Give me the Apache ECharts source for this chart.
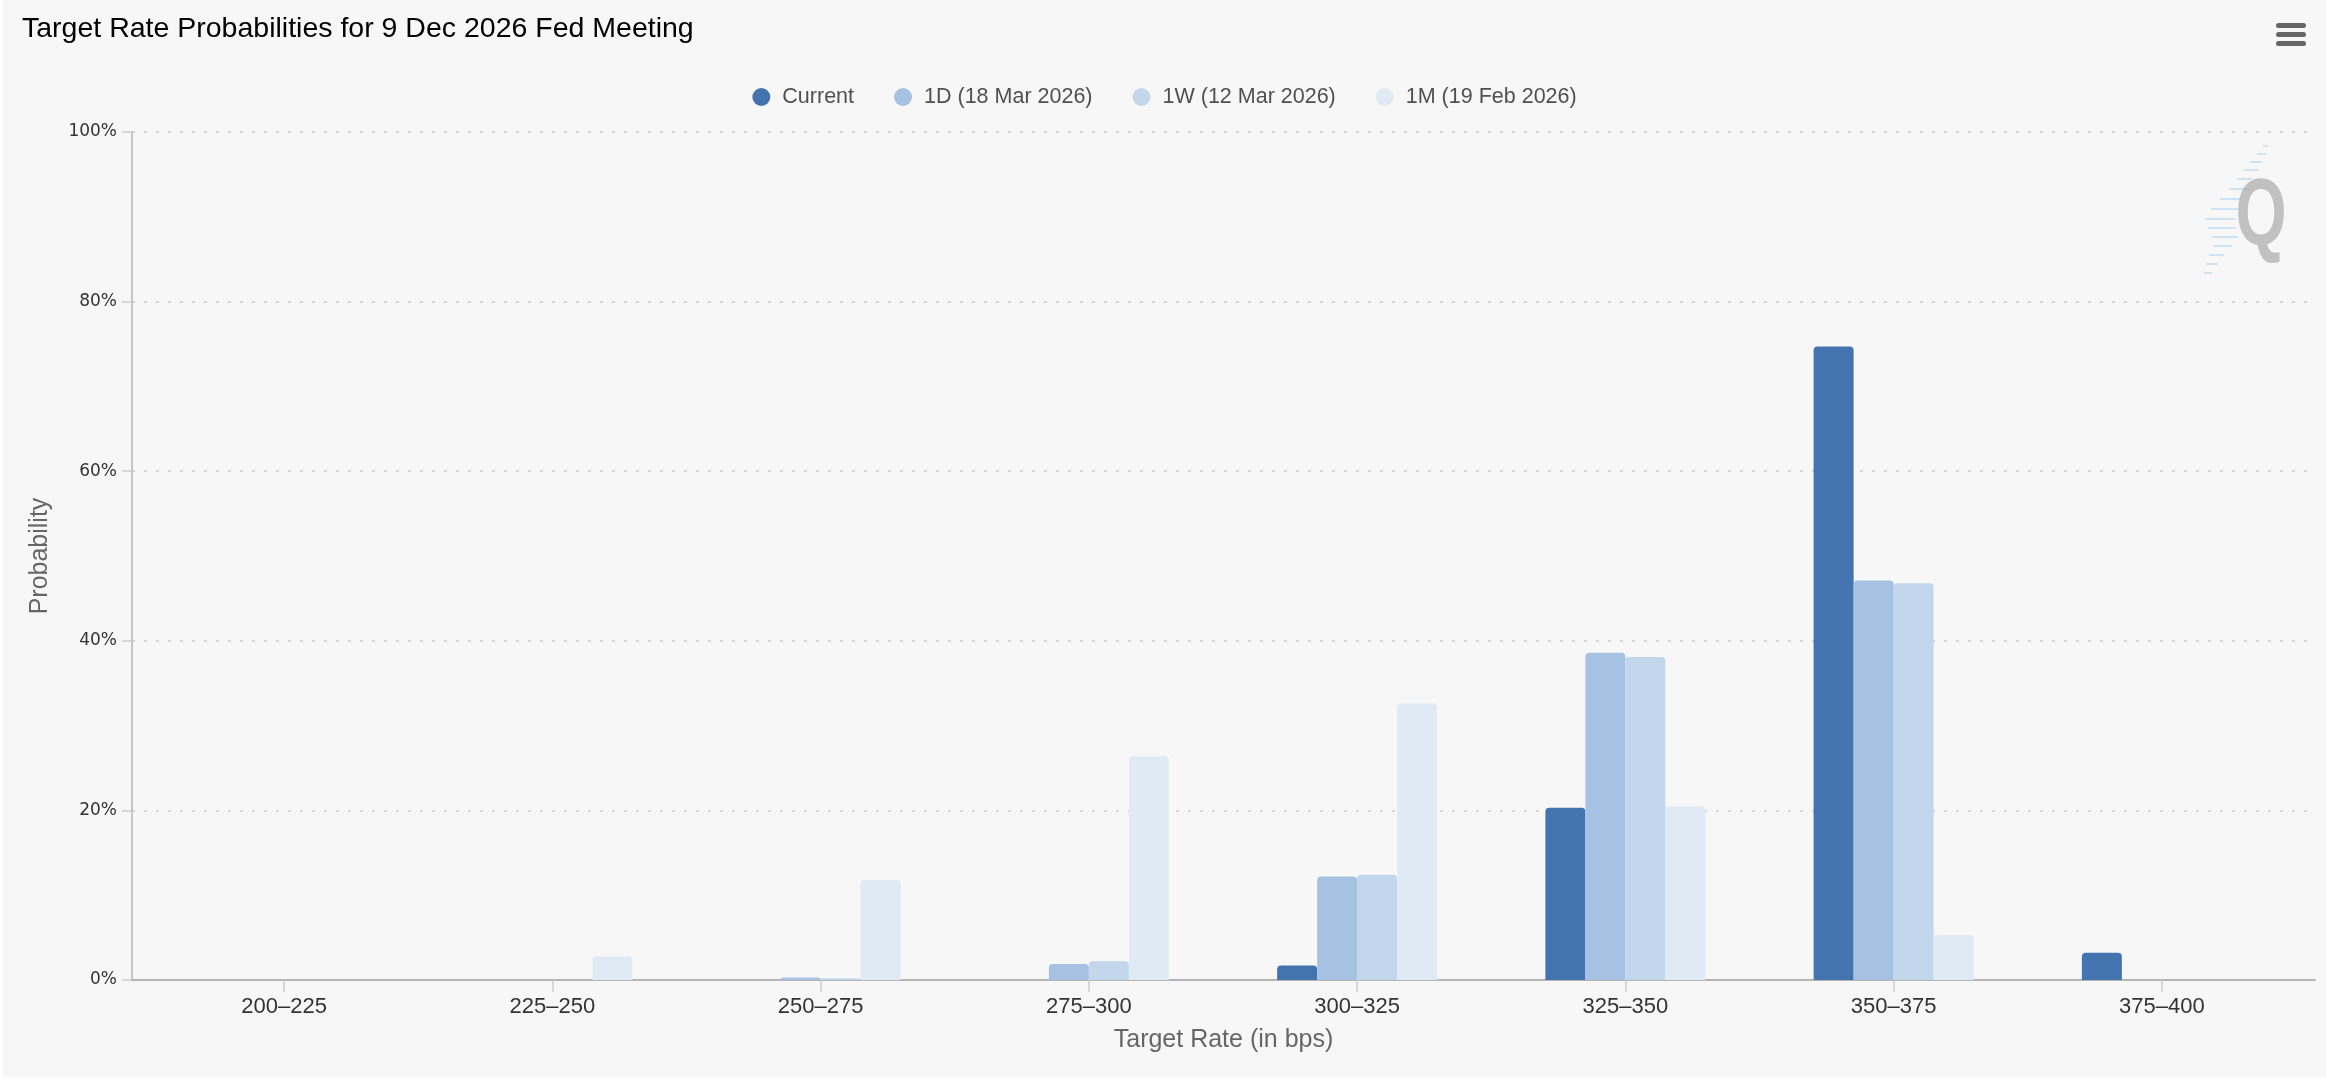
<!DOCTYPE html>
<html>
<head>
<meta charset="utf-8">
<script src="https://cdn.jsdelivr.net/npm/echarts@6/dist/echarts.min.js"></script>
<style>
  html, body { margin: 0; padding: 0; background: #ffffff; }
  #chart { position: absolute; left: 3px; top: 0; width: 2323px; height: 1077px; background: #f7f7f7; }
</style>
</head>
<body>
<div id="chart"></div>
<script>
const categories = ['200–225', '225–250', '250–275', '275–300', '300–325', '325–350', '350–375', '375–400'];
const seriesNames = ['Current', '1D (18 Mar 2026)', '1W (12 Mar 2026)', '1M (19 Feb 2026)'];
const currentValues = [0, 0, 0, 0, 1.7, 20.3, 74.7, 3.2];
const oneDayValues = [0, 0, 0.3, 1.9, 12.2, 38.6, 47.1, 0];
const oneWeekValues = [0, 0, 0.2, 2.2, 12.4, 38.1, 46.8, 0];
const oneMonthValues = [0, 2.8, 11.8, 26.4, 32.6, 20.5, 5.3, 0];
const yTicks = [0, 20, 40, 60, 80, 100];

const colors = ['#4374b0', '#a5c2e2', '#c3d7ec', '#e0eaf4'];
const allValues = [currentValues, oneDayValues, oneWeekValues, oneMonthValues];

const chart = echarts.init(document.getElementById('chart'), null, { renderer: 'canvas' });

// decorative logo stripes (watermark) and menu icon
const stripes = [
  [146, 2263, 2268], [154, 2257, 2266], [162, 2250, 2262], [170, 2244, 2259],
  [179, 2237, 2252], [189, 2229, 2249], [199, 2220, 2241], [209, 2211, 2238],
  [219, 2205, 2236], [228, 2208, 2236], [237, 2212, 2238], [246, 2213, 2232],
  [255, 2209, 2224], [264, 2206, 2218], [273, 2204, 2212]
];
const graphics = [];
stripes.forEach(s => {
  graphics.push({ type: 'line', silent: true, z: 1,
    shape: { x1: s[1] - 3, y1: s[0], x2: s[2] - 3, y2: s[0] },
    style: { stroke: '#cde4f6', lineWidth: 2 } });
});
graphics.push({ type: 'text', silent: true, z: 2, x: 2258, y: 218, scaleX: 0.7,
  style: { text: 'Q', fontSize: 94, fontWeight: 'bold', fontFamily: 'Liberation Sans, Arial, sans-serif',
    fill: 'rgba(165,165,165,0.65)', textAlign: 'center', textVerticalAlign: 'middle' } });
[23, 32, 41].forEach(y => {
  graphics.push({ type: 'rect', silent: true, z: 5,
    shape: { x: 2273, y: y, width: 30, height: 5, r: 2.5 },
    style: { fill: '#666666' } });
});

const option = {
  backgroundColor: '#f7f7f7',
  animation: false,
  color: colors,
  title: {
    text: 'Target Rate Probabilities for 9 Dec 2026 Fed Meeting',
    left: 19, top: 15, padding: 0,
    textStyle: { fontFamily: 'Liberation Sans, Arial, sans-serif', fontSize: 28.5, fontWeight: 'normal', color: '#000000' }
  },
  legend: {
    top: 81, left: 'center',
    icon: 'circle', itemWidth: 18, itemHeight: 18, itemGap: 40,
    data: seriesNames,
    textStyle: { fontFamily: 'Liberation Sans, Arial, sans-serif', fontSize: 21.5, color: '#505050', padding: [0, 0, 0, 7] }
  },
  graphic: graphics,
  grid: [
    { left: 129, right: 11, top: 132, bottom: 97 },
    { left: 147, right: 30, top: 132, bottom: 97 }
  ],
  xAxis: [
    { gridIndex: 0, type: 'value', min: 0, max: 1,
      axisLine: { show: true, lineStyle: { color: '#b5b5b5', width: 2 } },
      axisTick: { show: false }, axisLabel: { show: false }, splitLine: { show: false },
      name: 'Target Rate (in bps)', nameLocation: 'middle', nameGap: 48,
      nameTextStyle: { fontFamily: 'Liberation Sans, Arial, sans-serif', fontSize: 25, color: '#666666' }
    },
    { gridIndex: 1, type: 'category', data: categories, boundaryGap: true,
      axisLine: { show: false },
      axisTick: { show: true, alignWithLabel: true, length: 12, lineStyle: { color: '#cccccc', width: 1.5 } },
      axisLabel: { margin: 16, fontFamily: 'Liberation Sans, Arial, sans-serif', fontSize: 22, color: '#333333' },
      splitLine: { show: false }
    }
  ],
  yAxis: [
    { gridIndex: 0, type: 'value', min: yTicks[0], max: yTicks[yTicks.length - 1], interval: 20,
      axisLine: { show: true, lineStyle: { color: '#b5b5b5', width: 1.5 } },
      axisTick: { show: true, length: 10, lineStyle: { color: '#cccccc', width: 1.5 } },
      axisLabel: { margin: 15, formatter: '{value}%', fontFamily: 'DejaVu Sans, Verdana, sans-serif', fontSize: 17, color: '#333333' },
      splitLine: { show: true, lineStyle: { color: '#d6d6d6', width: 2, type: [3, 9] } },
      name: 'Probability', nameLocation: 'middle', nameGap: 79, nameRotate: 90,
      nameTextStyle: { fontFamily: 'Liberation Sans, Arial, sans-serif', fontSize: 25, color: '#666666' }
    },
    { gridIndex: 1, type: 'value', min: 0, max: 100, show: false, splitLine: { show: false } }
  ],
  series: seriesNames.map((name, i) => ({
    name: name,
    type: 'bar',
    xAxisIndex: 1, yAxisIndex: 1,
    data: allValues[i],
    barWidth: 40,
    barGap: '0%',
    itemStyle: { color: colors[i], borderRadius: [4, 4, 0, 0] },
    emphasis: { disabled: true }
  }))
};
chart.setOption(option);
</script>
</body>
</html>
